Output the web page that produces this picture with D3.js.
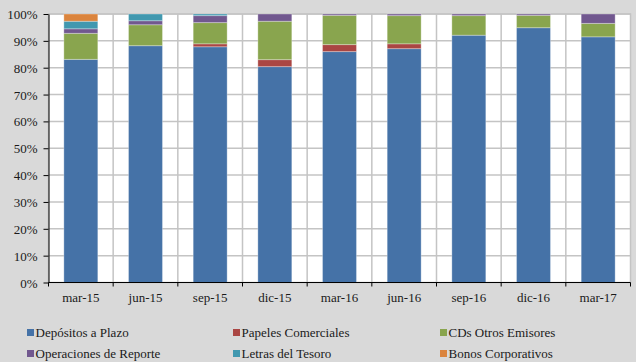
<!DOCTYPE html>
<html>
<head>
<meta charset="utf-8">
<script src="https://cdn.jsdelivr.net/npm/d3@7"></script>
<style>
  html, body { margin: 0; padding: 0; background: #D9D9D9; }
  svg { display: block; }
  text { font-family: "Liberation Serif", "Times New Roman", serif; fill: #1a1a1a; }
</style>
</head>
<body>
<svg id="chart" width="636" height="362"></svg>
<script>
// Quarterly portfolio composition (% of total)
const periods = ["mar-15", "jun-15", "sep-15", "dic-15", "mar-16", "jun-16", "sep-16", "dic-16", "mar-17"];
const seriesNames = ["Depósitos a Plazo", "Papeles Comerciales", "CDs Otros Emisores",
                     "Operaciones de Reporte", "Letras del Tesoro", "Bonos Corporativos"];
const depositos   = [83.1, 88.2, 87.8, 80.4, 86.0, 87.1, 92.1, 94.9, 91.5];
const papeles     = [0.0,  0.0,  1.1,  2.6,  2.6,  1.8,  0.0,  0.0,  0.0];
const cds         = [9.7,  7.8,  7.9, 14.3, 10.9, 10.5,  7.3,  4.6,  5.0];
const operaciones = [1.7,  1.5,  2.6,  2.7,  0.5,  0.6,  0.6,  0.5,  3.5];
const letras      = [2.8,  2.5,  0.6,  0.0,  0.0,  0.0,  0.0,  0.0,  0.0];
const bonos       = [2.7,  0.0,  0.0,  0.0,  0.0,  0.0,  0.0,  0.0,  0.0];
const yTicks = [0, 10, 20, 30, 40, 50, 60, 70, 80, 90, 100];
const colors = ["#4572A7", "#AA4643", "#89A54E", "#71588F", "#4198AF", "#DB843D"];

const seriesValues = [depositos, papeles, cds, operaciones, letras, bonos];
const rows = periods.map((p, i) => {
  const r = { period: p };
  seriesNames.forEach((s, k) => { r[s] = seriesValues[k][i]; });
  return r;
});

const svg = d3.select("#chart");
const m = { left: 48.5, right: 5.5, top: 14, bottom: 79.5 };
const W = 636, H = 362;
const plotW = W - m.left - m.right, plotH = H - m.top - m.bottom;

const x = d3.scaleBand().domain(periods).range([m.left, m.left + plotW]).paddingInner(0).paddingOuter(0);
const y = d3.scaleLinear().domain([0, 100]).range([m.top + plotH, m.top]);
const barW = x.bandwidth() * 0.525;

// Plot background
svg.append("rect")
  .attr("x", m.left).attr("y", m.top)
  .attr("width", plotW).attr("height", plotH)
  .attr("fill", "#ffffff")
  .attr("stroke", "#C4C4C4").attr("stroke-width", 1.5);

// Horizontal gridlines
svg.append("g").selectAll("line").data(yTicks.filter(t => t > 0)).join("line")
  .attr("x1", m.left).attr("x2", m.left + plotW)
  .attr("y1", d => y(d)).attr("y2", d => y(d))
  .attr("stroke", "#C4C4C4").attr("stroke-width", 1.5);

// Vertical gridlines at category boundaries
svg.append("g").selectAll("line").data(periods.slice(1)).join("line")
  .attr("x1", d => x(d)).attr("x2", d => x(d))
  .attr("y1", m.top).attr("y2", m.top + plotH)
  .attr("stroke", "#C4C4C4").attr("stroke-width", 1.5);

// Stacked bars
const stacked = d3.stack().keys(seriesNames)(rows);
svg.append("g").selectAll("g").data(stacked).join("g")
  .attr("fill", (d, i) => colors[i])
  .selectAll("rect").data(d => d.filter(s => s[1] - s[0] > 0)).join("rect")
  .attr("x", d => x(d.data.period) + (x.bandwidth() - barW) / 2)
  .attr("width", barW)
  .attr("y", d => y(d[1]))
  .attr("height", d => y(d[0]) - y(d[1]))
  .attr("stroke", "rgba(255,255,255,0.3)")
  .attr("stroke-width", 1);

// Y axis
const yAxis = d3.axisLeft(y).tickValues(yTicks).tickFormat(d => d + "%").tickSize(5).tickSizeOuter(0);
const gy = svg.append("g").attr("transform", `translate(${m.left},0)`).call(yAxis);
gy.select(".domain").attr("stroke", "#000");
gy.selectAll(".tick line").attr("stroke", "#000");
gy.selectAll(".tick text").attr("x", -11).attr("dy", "0.35em")
  .style("font-family", "'Liberation Serif', serif").style("font-size", "13px").attr("fill", "#1a1a1a");

// X axis
const gx = svg.append("g").attr("transform", `translate(0,${m.top + plotH})`);
gx.append("line").attr("x1", m.left).attr("x2", m.left + plotW).attr("stroke", "#000");
const boundaries = periods.map(p => x(p)).concat([m.left + plotW]);
gx.selectAll(".tk").data(boundaries).join("line").attr("class", "tk")
  .attr("x1", d => d).attr("x2", d => d).attr("y1", 0).attr("y2", 4).attr("stroke", "#000");
gx.selectAll(".lbl").data(periods).join("text").attr("class", "lbl")
  .attr("x", d => x(d) + x.bandwidth() / 2)
  .attr("y", 19.5)
  .attr("text-anchor", "middle")
  .style("font-size", "13px")
  .text(d => d);

// Legend (three columns, two rows)
const legX = [27, 233, 440];
const legY = [332.5, 353.5];
const leg = svg.append("g").selectAll("g").data(seriesNames).join("g")
  .attr("transform", (d, i) => `translate(${legX[i % 3]},${legY[Math.floor(i / 3)]})`);
leg.append("rect").attr("x", 0).attr("y", -3.5).attr("width", 7).attr("height", 7)
  .attr("fill", (d, i) => colors[i]);
leg.append("text").attr("x", 8.5).attr("y", 0).attr("dy", "0.35em")
  .style("font-size", "13px")
  .text(d => d);
</script>
</body>
</html>
